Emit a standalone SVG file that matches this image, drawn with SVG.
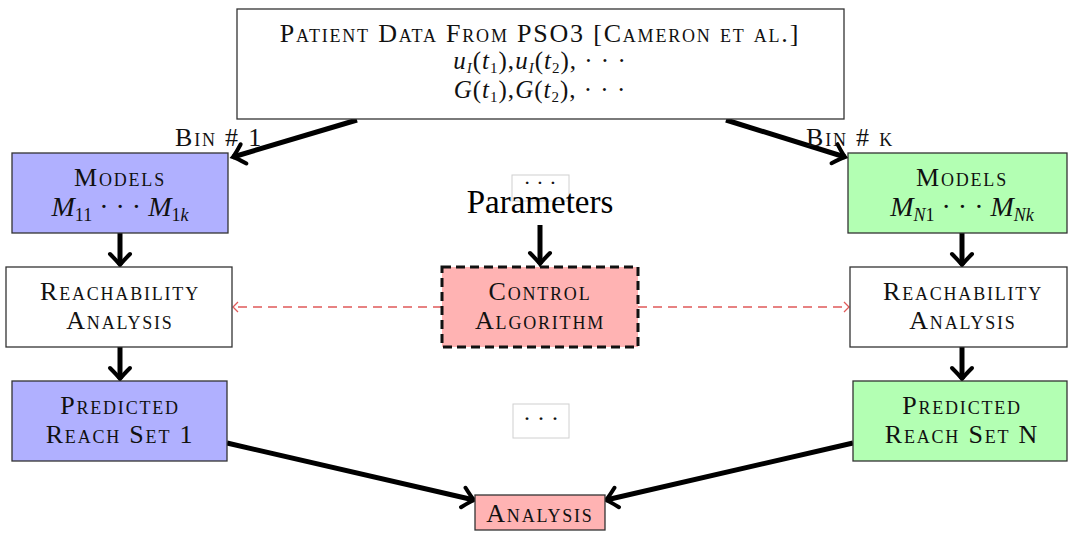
<svg xmlns="http://www.w3.org/2000/svg" width="1068" height="533" viewBox="0 0 1068 533">
<style>
.box{stroke:#333;stroke-width:1.3}
.t{font-family:"Liberation Serif","DejaVu Serif",serif;font-size:26px;letter-spacing:1.8px;font-variant:small-caps;fill:#111;text-anchor:middle}
.m{font-family:"Liberation Serif","DejaVu Serif",serif;font-size:28px;font-style:italic;fill:#111;text-anchor:middle}
.m2{font-family:"Liberation Serif","DejaVu Serif",serif;font-size:25px;letter-spacing:1px;font-style:italic;fill:#111;text-anchor:middle}
.r{font-style:normal}
.s{font-size:18px}
.s2{font-size:15px}
.thick{stroke:#000;stroke-width:5;fill:none}
.red{stroke:#e05a5a;stroke-width:1.5;stroke-dasharray:9 6;fill:none}
.dots{fill:#fff;stroke:#d0d0d0;stroke-width:1}
</style>
<defs>
<marker id="ah" markerUnits="userSpaceOnUse" viewBox="-14 -12 17 24" refX="0" refY="0" markerWidth="17" markerHeight="24" orient="auto" overflow="visible">
<path d="M-11,-10 Q-3,-2 0,0 Q-3,2 -11,10" fill="none" stroke="#000" stroke-width="4" stroke-linecap="round"/>
</marker>
<marker id="ahr" markerUnits="userSpaceOnUse" viewBox="-8 -6 10 12" refX="0" refY="0" markerWidth="10" markerHeight="12" orient="auto" overflow="visible">
<path d="M-5,-5 Q-1,-1 0,0 Q-1,1 -5,5" fill="none" stroke="#e05a5a" stroke-width="1.3"/>
</marker>
</defs>
<rect width="1068" height="533" fill="#fff"/>

<g id="dots-top"><rect class="dots" x="512" y="175" width="57" height="26"/><text class="m r" x="540" y="190" style="font-style:normal;font-size:22px">· · ·</text></g>
<g id="dots-bottom"><rect class="dots" x="513" y="404" width="56" height="34"/><text class="m r" x="541" y="426" style="font-style:normal;font-size:24px">· · ·</text></g>

<g id="connectors">
<line class="thick" x1="357" y1="120" x2="233" y2="157" marker-end="url(#ah)"/>
<line class="thick" x1="726" y1="120" x2="845" y2="157" marker-end="url(#ah)"/>
<line class="thick" x1="120" y1="233" x2="120" y2="265" marker-end="url(#ah)"/>
<line class="thick" x1="962" y1="233" x2="962" y2="265" marker-end="url(#ah)"/>
<line class="thick" x1="120" y1="347" x2="120" y2="379" marker-end="url(#ah)"/>
<line class="thick" x1="962" y1="347" x2="962" y2="379" marker-end="url(#ah)"/>
<line class="thick" x1="540" y1="225" x2="540" y2="264" marker-end="url(#ah)"/>
<line class="thick" x1="227" y1="443" x2="474" y2="500" marker-end="url(#ah)"/>
<line class="thick" x1="853" y1="443" x2="606" y2="500" marker-end="url(#ah)"/>
<line class="red" x1="442" y1="307" x2="233" y2="307" marker-end="url(#ahr)"/>
<line class="red" x1="638" y1="307" x2="849" y2="307" marker-end="url(#ahr)"/>
</g>

<g id="patient-data">
<rect class="box" x="237" y="9" width="607" height="110" fill="#fff"/>
<text class="t" x="540" y="42">Patient Data From PSO3 [Cameron et al.]</text>
<text class="m2" x="540" y="69">u<tspan class="s2" dy="4">I</tspan><tspan class="r" dy="-4">(</tspan>t<tspan class="s2 r" dy="4">1</tspan><tspan class="r" dy="-4">),</tspan>u<tspan class="s2" dy="4">I</tspan><tspan class="r" dy="-4">(</tspan>t<tspan class="s2 r" dy="4">2</tspan><tspan class="r" dy="-4">), · · ·</tspan></text>
<text class="m2" x="540" y="98">G<tspan class="r">(</tspan>t<tspan class="s2 r" dy="4">1</tspan><tspan class="r" dy="-4">),</tspan>G<tspan class="r">(</tspan>t<tspan class="s2 r" dy="4">2</tspan><tspan class="r" dy="-4">), · · ·</tspan></text>
</g>

<g id="bin1-label"><text class="t" x="219" y="146">Bin # 1</text></g>
<g id="bink-label"><text class="t" x="850" y="146">Bin # k</text></g>

<g id="models-1">
<rect class="box" x="12" y="153" width="216" height="80" fill="#b0b0ff"/>
<text class="t" x="120" y="186">Models</text>
<text class="m" x="120" y="216">M<tspan class="s r" dy="5">11</tspan><tspan class="r" dy="-5"> · · · </tspan>M<tspan class="s" dy="5"><tspan class="r">1</tspan>k</tspan></text>
</g>
<g id="models-n">
<rect class="box" x="848" y="153" width="219" height="80" fill="#b3ffb3"/>
<text class="t" x="962" y="186">Models</text>
<text class="m" x="962" y="216">M<tspan class="s" dy="5">N<tspan class="r">1</tspan></tspan><tspan class="r" dy="-5"> · · · </tspan>M<tspan class="s" dy="5">Nk</tspan></text>
</g>

<g id="reach-1">
<rect class="box" x="6" y="267" width="226" height="80" fill="#fff"/>
<text class="t" x="120" y="300">Reachability</text>
<text class="t" x="120" y="329">Analysis</text>
</g>
<g id="reach-n">
<rect class="box" x="850" y="267" width="217" height="80" fill="#fff"/>
<text class="t" x="963" y="300">Reachability</text>
<text class="t" x="963" y="329">Analysis</text>
</g>

<g id="parameters"><text x="540" y="213" style="font-family:'Liberation Serif','DejaVu Serif',serif;font-size:33px;text-anchor:middle;fill:#000">Parameters</text></g>

<g id="control">
<rect x="442" y="267" width="196" height="80" fill="#ffb3b3" stroke="#111" stroke-width="3" stroke-dasharray="9 5"/>
<text class="t" x="540" y="300">Control</text>
<text class="t" x="540" y="329">Algorithm</text>
</g>

<g id="pred-1">
<rect class="box" x="12" y="381" width="215" height="80" fill="#b0b0ff"/>
<text class="t" x="120" y="414">Predicted</text>
<text class="t" x="120" y="443">Reach Set 1</text>
</g>
<g id="pred-n">
<rect class="box" x="853" y="381" width="214" height="80" fill="#b3ffb3"/>
<text class="t" x="962" y="414">Predicted</text>
<text class="t" x="962" y="443">Reach Set N</text>
</g>

<g id="analysis">
<rect class="box" x="475" y="495" width="130" height="35" fill="#ffb3b3"/>
<text class="t" x="540" y="522">Analysis</text>
</g>
</svg>
